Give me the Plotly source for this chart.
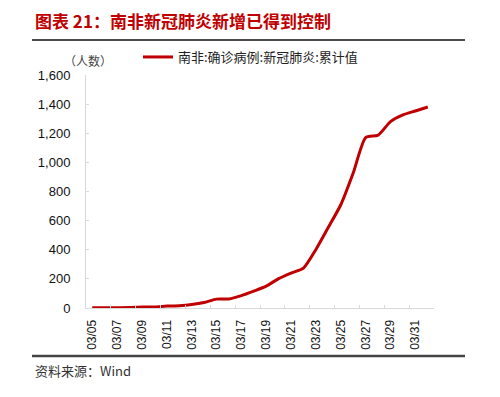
import plotly.graph_objects as go

dates = ["03/05", "03/06", "03/07", "03/08", "03/09", "03/10", "03/11", "03/12", "03/13", "03/14",
         "03/15", "03/16", "03/17", "03/18", "03/19", "03/20", "03/21", "03/22", "03/23", "03/24",
         "03/25", "03/26", "03/27", "03/28", "03/29", "03/30", "03/31", "04/01"]
cases = [1, 1, 2, 3, 7, 7, 13, 16, 24, 38,
         61, 62, 85, 116, 150, 202, 240, 274, 402, 554,
         709, 927, 1170, 1187, 1280, 1326, 1353, 1380]
series_name = "南非:确诊病例:新冠肺炎:累计值"
yticks = [0, 200, 400, 600, 800, 1000, 1200, 1400, 1600]

# page body has an 8px margin; work in window pixels and offset
OFF = 8
W, H = 500 - OFF, 397 - OFF
L, R, T, B = 86 - OFF, 434 - OFF, 75 - OFF, 308 - OFF

def px(x):
    return (x - OFF - L) / (R - L)

def py(y):
    return (B - (y - OFF)) / (B - T)

fig = go.Figure()
fig.add_trace(go.Scatter(
    x=dates, y=cases, mode="lines", name=series_name,
    line=dict(color="#C00000", width=3, shape="spline", smoothing=0.6),
))

fig.update_layout(
    width=W, height=H,
    margin=dict(l=L, r=W - R, t=T, b=H - B, autoexpand=False),
    plot_bgcolor="white", paper_bgcolor="white",
    showlegend=True,
    legend=dict(orientation="h", x=px(138), y=py(57), xanchor="left", yanchor="middle",
                font=dict(family="Noto Sans CJK SC", size=13, color="#222"),
                bgcolor="rgba(0,0,0,0)", itemwidth=30),
    xaxis=dict(type="category", tickmode="linear", tick0=0, dtick=2,
               tickson="boundaries", ticks="inside", ticklen=3, tickcolor="#d9d9d9",
               showline=True, linecolor="#d9d9d9", linewidth=1, showgrid=False,
               tickangle=-90, tickfont=dict(family="Liberation Sans", size=12, color="#111"),
               ticklabelstandoff=6,
               range=[-0.5, 27.5], automargin=False),
    yaxis=dict(range=[0, 1600], tickvals=yticks, tickformat=",", showgrid=False,
               showline=True, linecolor="#d9d9d9", linewidth=1, zeroline=False,
               ticks="inside", ticklen=3, tickcolor="#d9d9d9", automargin=False,
               ticklabelstandoff=12,
               tickfont=dict(family="Liberation Sans", size=13, color="#111")),
)

fig.add_annotation(text="<b>图表 21：南非新冠肺炎新增已得到控制</b>", xref="paper", yref="paper",
                   x=px(33), y=py(21), xanchor="left", yanchor="middle", showarrow=False,
                   font=dict(family="Noto Sans CJK SC", size=17, color="#C00000"))
fig.add_annotation(text="（人数）", xref="paper", yref="paper",
                   x=px(88), y=py(61), xanchor="center", yanchor="middle", showarrow=False,
                   font=dict(family="Noto Sans CJK SC", size=12, color="#444"))
fig.add_annotation(text="资料来源：Wind", xref="paper", yref="paper",
                   x=px(33), y=py(370), xanchor="left", yanchor="middle", showarrow=False,
                   font=dict(family="Noto Sans CJK SC", size=13, color="#333"))

fig.add_shape(type="line", xref="paper", yref="paper", x0=px(32), x1=px(465),
              y0=py(40), y1=py(40), line=dict(color="#111", width=1.5))
fig.add_shape(type="line", xref="paper", yref="paper", x0=px(32), x1=px(465),
              y0=py(356), y1=py(356), line=dict(color="#444", width=2.5))

fig.write_html("out.html")
